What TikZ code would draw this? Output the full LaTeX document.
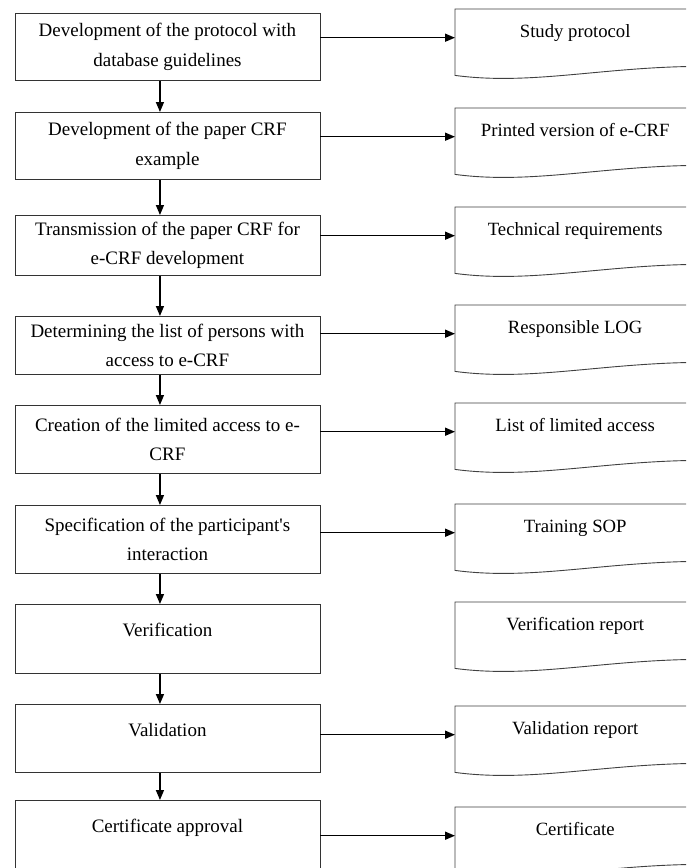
\documentclass[tikz,border=0pt]{standalone}
\usepackage{fontspec}
\setmainfont{Liberation Serif}
\usetikzlibrary{arrows.meta,calc}
\tikzset{
  procbox/.style={draw=black!80, line width=0.9pt, rectangle, inner sep=0pt, minimum width=305pt, anchor=north west},
  proctext/.style={align=center, font=\fontsize{19}{29.5}\selectfont, inner sep=0pt},
  onetext/.style={font=\fontsize{19}{22}\selectfont, inner sep=0pt, anchor=base},
  docframe/.style={rectangle, inner sep=0pt, minimum width=240pt, minimum height=66pt, anchor=north west},
  docline/.style={draw=black!75, line width=0.9pt},
  doctext/.style={font=\fontsize{18.7}{22}\selectfont, inner sep=0pt, anchor=base},
  flow/.style={draw=black, line width=1.5pt, -{Triangle[length=10pt,width=8pt]}},
}
% name, top, bottom, two-line text
\newcommand\procboxtwo[4]{%
  \node[procbox, minimum height={(#3-#2)*1pt}] (#1) at (14.5,-#2) {};
  \node[proctext] (#1t) at (#1.center) {#4};
}
% name, top, bottom, one-line text
\newcommand\procboxone[4]{%
  \node[procbox, minimum height={(#3-#2)*1pt}] (#1) at (14.5,-#2) {};
  \node[onetext] (#1t) at ($(#1.north)+(0,-32)$) {#4};
}
% name, top, text
\newcommand\docbox[3]{%
  \node[docframe] (#1) at (455,-#2) {};
  \draw[docline] ([yshift=9pt]#1.south east) -- (#1.north east) -- (#1.north west) -- (#1.south west)
    .. controls ($(#1.south west)+(75,-10)$) and ($(#1.south west)+(145,8)$) .. ([yshift=9pt]#1.south east);
  \node[doctext] (#1t) at ($(#1.north)+(0,-28)$) {#3};
}
\begin{document}
\begin{tikzpicture}[x=1pt,y=1pt]
\useasboundingbox (0,0) rectangle (686,-868);
\clip (0,0) rectangle (686,-868);
\fill[white] (0,0) rectangle (686,-868);

\procboxtwo{b1}{13}{80}{Development of the protocol with\\database guidelines}
\procboxtwo{b2}{112}{179}{Development of the paper CRF\\example}
\procboxtwo{b3}{215}{275}{Transmission of the paper CRF for\\e-CRF development}
\procboxtwo{b4}{316}{374}{Determining the list of persons with\\access to e-CRF}
\procboxtwo{b5}{405}{473}{Creation of the limited access to e-\\CRF}
\procboxtwo{b6}{505}{573}{Specification of the participant\textquotesingle s\\interaction}
\procboxone{b7}{604}{673}{Verification}
\procboxone{b8}{704}{772}{Validation}
\procboxone{b9}{800}{890}{Certificate approval}

\docbox{d1}{9}{Study protocol}
\docbox{d2}{108}{Printed version of e-CRF}
\docbox{d3}{207}{Technical requirements}
\docbox{d4}{305}{Responsible LOG}
\docbox{d5}{403}{List of limited access}
\docbox{d6}{504}{Training SOP}
\docbox{d7}{602}{Verification report}
\docbox{d8}{706}{Validation report}
\docbox{d9}{807}{Certificate}

\foreach \a/\b in {b1/b2,b2/b3,b3/b4,b4/b5,b5/b6,b6/b7,b7/b8,b8/b9}
  \draw[flow] ([xshift=-7.5pt]\a.south) -- ([xshift=-7.5pt]\b.north);

\foreach \a/\b in {b1/d1,b2/d2,b3/d3,b4/d4,b5/d5,b6/d6,b8/d8,b9/d9}
  \draw[flow] ([yshift=4.5pt]\b.west -| \a.east) -- ([yshift=4.5pt]\b.west);
\end{tikzpicture}
\end{document}
